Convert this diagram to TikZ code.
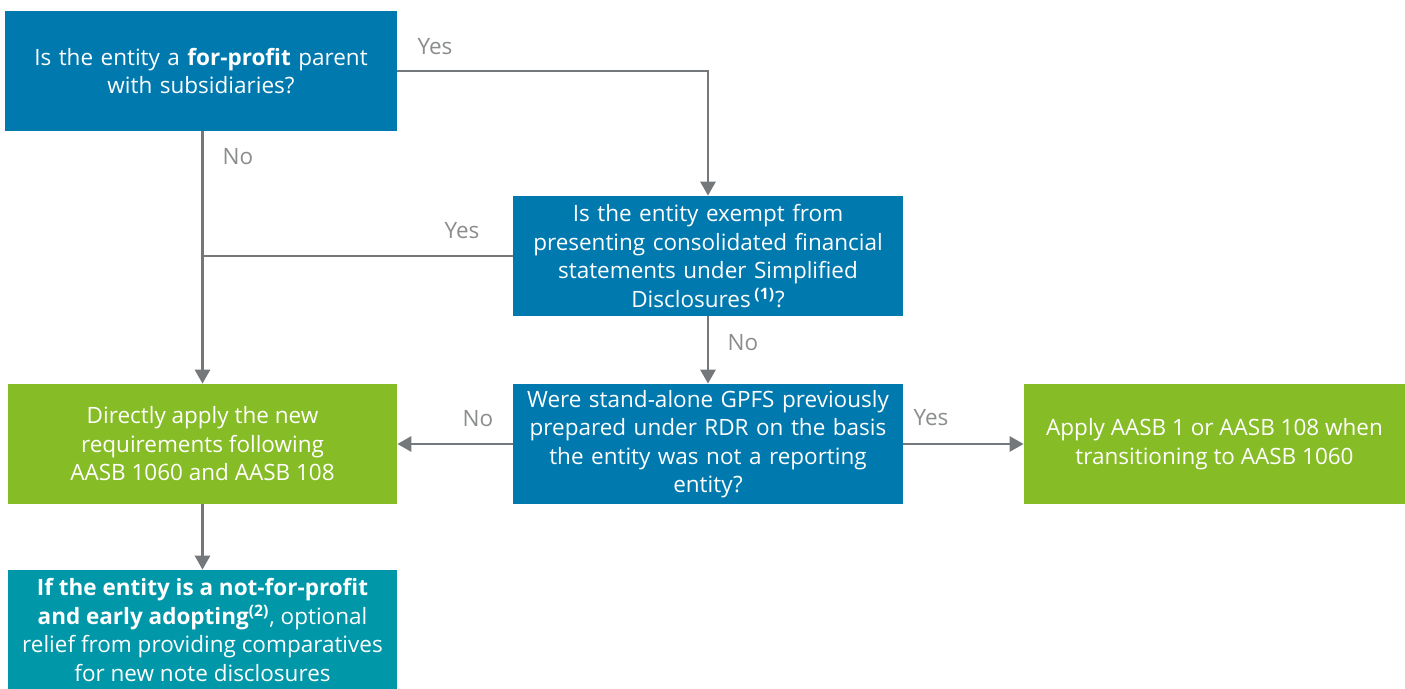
\documentclass[tikz,border=0pt]{standalone}
\usepackage{fontspec}
\setmainfont{Open Sans}
\usetikzlibrary{arrows.meta, positioning}
\definecolor{qblue}{HTML}{0079AF}
\definecolor{agreen}{HTML}{86BC25}
\definecolor{nteal}{HTML}{0097A9}
\definecolor{lgrey}{HTML}{75787B}
\definecolor{tgrey}{HTML}{8A8C8E}

\begin{document}
\begin{tikzpicture}[font=\fontsize{12.8}{16.2}\selectfont,
    box/.style={rectangle, text=white, align=center, inner sep=0pt, minimum height=2.4cm},
    qbox/.style={box, fill=qblue, minimum width=7.8cm, text width=7.6cm},
    abox/.style={box, fill=agreen},
    link/.style={draw=lgrey, line width=1.6pt},
    flow/.style={link, -{Triangle[length=0.28cm, width=0.3cm]}},
    lbl/.style={text=tgrey}]
    \useasboundingbox (0,0) rectangle (28.1,-13.78);
    % questions
    \node[qbox, minimum width=7.84cm] (parent) at (4.02,-1.42) {Is the entity a \textbf{for-profit} parent\\ with subsidiaries?\\[0.5cm]};
    \node[qbox] (exempt) at (14.16,-5.12) {Is the entity exempt from\\ presenting consolidated financial\\ statements under Simplified\\ Disclosures\,\textsuperscript{\textbf{(1)}}?};
    \node[qbox] (gpfs) at (14.16,-8.88) {Were stand-alone GPFS previously\\ prepared under RDR on the basis\\ the entity was not a reporting\\ entity?};
    % outcomes
    \node[abox, minimum width=7.78cm] (direct) at (4.05,-8.88) {Directly apply the new\\ requirements following\\ AASB 1060 and AASB 108};
    \node[abox, minimum width=7.62cm] (transit) at (24.29,-8.88) {Apply AASB 1 or AASB 108 when\\ transitioning to AASB 1060};
    \node[box, fill=nteal, minimum width=7.78cm] (relief) at (4.05,-12.6) {\textbf{If the entity is a not-for-profit}\\ \textbf{and early adopting\textsuperscript{(2)}}, optional\\ relief from providing comparatives\\ for new note disclosures};
    % connectors
    \coordinate (join) at (exempt.west -| direct.north);
    \draw[flow] (parent.east |- 0,-1.42) -| (exempt.north);
    \draw[flow] (parent.south -| direct.north) -- (direct.north);
    \draw[link] (exempt.west) -- (join);
    \draw[flow] (exempt.south) -- (gpfs.north);
    \draw[flow] (gpfs.west) -- (direct.east);
    \draw[flow] (gpfs.east) -- (transit.west);
    \draw[flow] (direct.south) -- (relief.north);
    % labels
    \node[lbl] at (8.7,-0.94) {Yes};
    \node[lbl] at (4.76,-3.14) {No};
    \node[lbl] at (9.24,-4.62) {Yes};
    \node[lbl] at (14.86,-6.86) {No};
    \node[lbl] at (9.56,-8.38) {No};
    \node[lbl] at (18.62,-8.36) {Yes};
\end{tikzpicture}
\end{document}
